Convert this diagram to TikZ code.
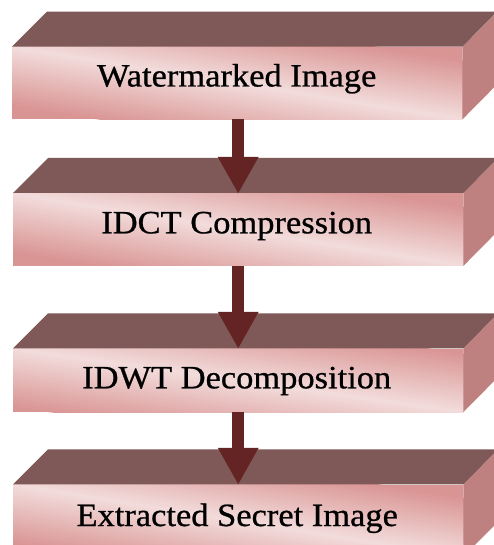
\documentclass[tikz,border=0pt]{standalone}
\usepackage{fontspec}
\newfontfamily\tnr{Liberation Serif}[FakeBold=0.7]
\usepackage{graphicx}
\usetikzlibrary{arrows.meta,calc}
\definecolor{topc}{HTML}{7F5858}
\definecolor{sidec}{HTML}{BF8080}
\definecolor{darkp}{HTML}{D99594}
\definecolor{lightp}{HTML}{F2DCDB}
\definecolor{arrc}{HTML}{632423}
\pgfdeclareverticalshading{frontsh}{100bp}{color(0bp)=(darkp); color(25bp)=(darkp); color(50bp)=(lightp); color(75bp)=(darkp); color(100bp)=(darkp)}
\tikzset{
  front/.style={draw=none, fill=darkp, inner sep=0pt, anchor=north west, minimum width=450pt},
  topface/.style={fill=topc, draw=none},
  sideface/.style={fill=sidec, draw=none},
  lbl/.style={anchor=base, inner sep=0pt, font=\tnr\fontsize{32.5}{39}\selectfont, text=black},
  flow/.style={draw=arrc, line width=12.5pt,
    -{Triangle[width=38pt,length=37pt]}, shorten >=-0.5pt}
}
\newcommand{\frontshade}[2]{%
  \begin{scope}
    \clip (#1.north west) rectangle (#1.south east);
    \shade[shading=frontsh, transform canvas={rotate around={#2:(#1.center)}}]
      ($(#1.center)+(-300,-58)$) rectangle ($(#1.center)+(300,58)$);
  \end{scope}}
\begin{document}
\begin{tikzpicture}[x=1pt,y=-1pt]
\useasboundingbox (0,0) rectangle (494,545);
\clip (0,0) rectangle (494,545);
\node[front, minimum height=72.3pt] (f1) at (12,46.7) {};
\node[front, minimum height=72.5pt] (f2) at (13,193) {};
\node[front, minimum height=63.4pt] (f3) at (13,348.3) {};
\node[front, minimum height=72pt] (f4) at (13,484.3) {};
\frontshade{f1}{-9.1}
\frontshade{f2}{-9.1}
\frontshade{f3}{-8}
\frontshade{f4}{-9.1}
\fill[sideface] (f1.north east) -- ++(35,-35) -- ++(0,72.3) -- (f1.south east) -- cycle;
\fill[sideface] (f2.north east) -- ++(35,-35) -- ++(0,72.5) -- (f2.south east) -- cycle;
\fill[sideface] (f3.north east) -- ++(35,-35) -- ++(0,63.4) -- (f3.south east) -- cycle;
\fill[sideface] (f4.north east) -- ++(35,-35) -- ++(0,72) -- (f4.south east) -- cycle;
\fill[topface] (f1.north west) -- ++(35,-35) -- ++(450,0) -- (f1.north east) -- cycle;
\fill[topface] (f2.north west) -- ++(35,-35) -- ++(450,0) -- (f2.north east) -- cycle;
\fill[topface] (f3.north west) -- ++(35,-35) -- ++(450,0) -- (f3.north east) -- cycle;
\fill[topface] (f4.north west) -- ++(35,-35) -- ++(450,0) -- (f4.north east) -- cycle;
\node[lbl] (t1) at ($(f1.north)+(-0.5,39.8)$) {\scalebox{1.06}[1]{Watermarked Image}};
\node[lbl] (t2) at ($(f2.north)+(-1.5,40.3)$) {\scalebox{1.06}[1]{IDCT Compression}};
\node[lbl] (t3) at ($(f3.north)+(-1.5,40)$) {\scalebox{1.06}[1]{IDWT Decomposition}};
\node[lbl] (t4) at ($(f4.north)+(-1,41.7)$) {\scalebox{1.06}[1]{Extracted Secret Image}};
\draw[flow] ($(f1.south)+(1,0)$) -- ($(f1.south -| f2.north)+(0,74)$);
\draw[flow] (f2.south) -- (f3.north);
\draw[flow] (f3.south) -- (f4.north);
\end{tikzpicture}
\end{document}
